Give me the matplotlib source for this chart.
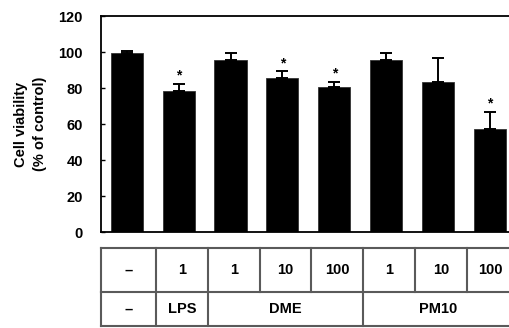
import matplotlib
matplotlib.use("Agg")
import matplotlib.pyplot as plt
from matplotlib.lines import Line2D

# ---- data ----
conc_labels = ["–", "1", "1", "10", "100", "1", "10", "100"]
group_labels = ["–", "LPS", "DME", "PM10"]
group_spans = [1, 1, 3, 3]
viability = [99.5, 78.5, 95.5, 85.5, 80.5, 95.5, 83.5, 57.0]
errors = [1.0, 4.0, 4.0, 3.7, 2.8, 4.0, 13.2, 9.8]
significant = [False, True, False, True, True, False, False, True]
yticks = [0, 20, 40, 60, 80, 100, 120]

W, H = 510, 328
fig = plt.figure(figsize=(W / 100, H / 100), dpi=100)
plt.rcParams['font.family'] = ['Liberation Sans', 'DejaVu Sans']

ax_l, ax_r = 101 / W, 513 / W
ax = fig.add_axes([ax_l, (H - 232) / H, ax_r - ax_l, (232 - 16) / H])
x = list(range(len(viability)))
ax.bar(x, viability, width=0.62, color='black', edgecolor='#333333', linewidth=0.6, zorder=2)
ax.errorbar(x, viability, yerr=[[0] * len(errors), errors], fmt='none',
            ecolor='black', elinewidth=1.4, capsize=4.5, capthick=1.4, zorder=3)
for xi, v, e, s in zip(x, viability, errors, significant):
    if s:
        ax.text(xi, v + e + 4.5, "*", ha='center', va='center', fontsize=10,
                fontweight='bold')
xmin, xmax = -0.5, 7.45
ax.set_xlim(xmin, xmax)
ax.set_ylim(0, 120)
ax.set_yticks(yticks)
ax.set_yticklabels([str(t) for t in yticks], fontsize=10.5, fontweight='bold')
ax.tick_params(axis='y', direction='in', length=3, pad=13, width=1)
ax.set_xticks([])
ax.spines['right'].set_visible(False)
for sp in ['left', 'top', 'bottom']:
    ax.spines[sp].set_linewidth(1.3)
ax.set_ylabel("Cell viability\n(% of control)", fontsize=10.5, fontweight='bold',
              linespacing=1.5, labelpad=8)

# ---- table below ----
tab = fig.add_axes([ax_l, (H - 326) / H, ax_r - ax_l, (326 - 248) / H])
tab.set_xlim(xmin, xmax)
tab.set_ylim(0, 2)
tab.axis('off')
lc = '#5a5a5a'
lw = 1.5
mid = 0.86
edges = [xmin] + [i + 0.56 for i in range(len(conc_labels) - 1)] + [xmax + 0.2]
for yv in [0, mid, 2]:
    tab.add_line(Line2D([xmin, xmax + 0.2], [yv, yv], color=lc, lw=lw, clip_on=False))
# upper row
for e in edges:
    tab.add_line(Line2D([e, e], [mid, 2], color=lc, lw=lw, clip_on=False))
for i, lab in enumerate(conc_labels):
    cx = (edges[i] + min(edges[i + 1], xmax)) / 2
    tab.text(cx, (mid + 2) / 2, lab, ha='center', va='center', fontsize=10.5,
             fontweight='bold')
# lower row
idx = 0
for lab, span in zip(group_labels, group_spans):
    left, right = edges[idx], edges[idx + span]
    tab.add_line(Line2D([left, left], [0, mid], color=lc, lw=lw, clip_on=False))
    cx = (left + min(right, xmax)) / 2
    tab.text(cx, mid / 2, lab, ha='center', va='center', fontsize=10.5,
             fontweight='bold')
    idx += span

fig.savefig("out.png", dpi=100)
